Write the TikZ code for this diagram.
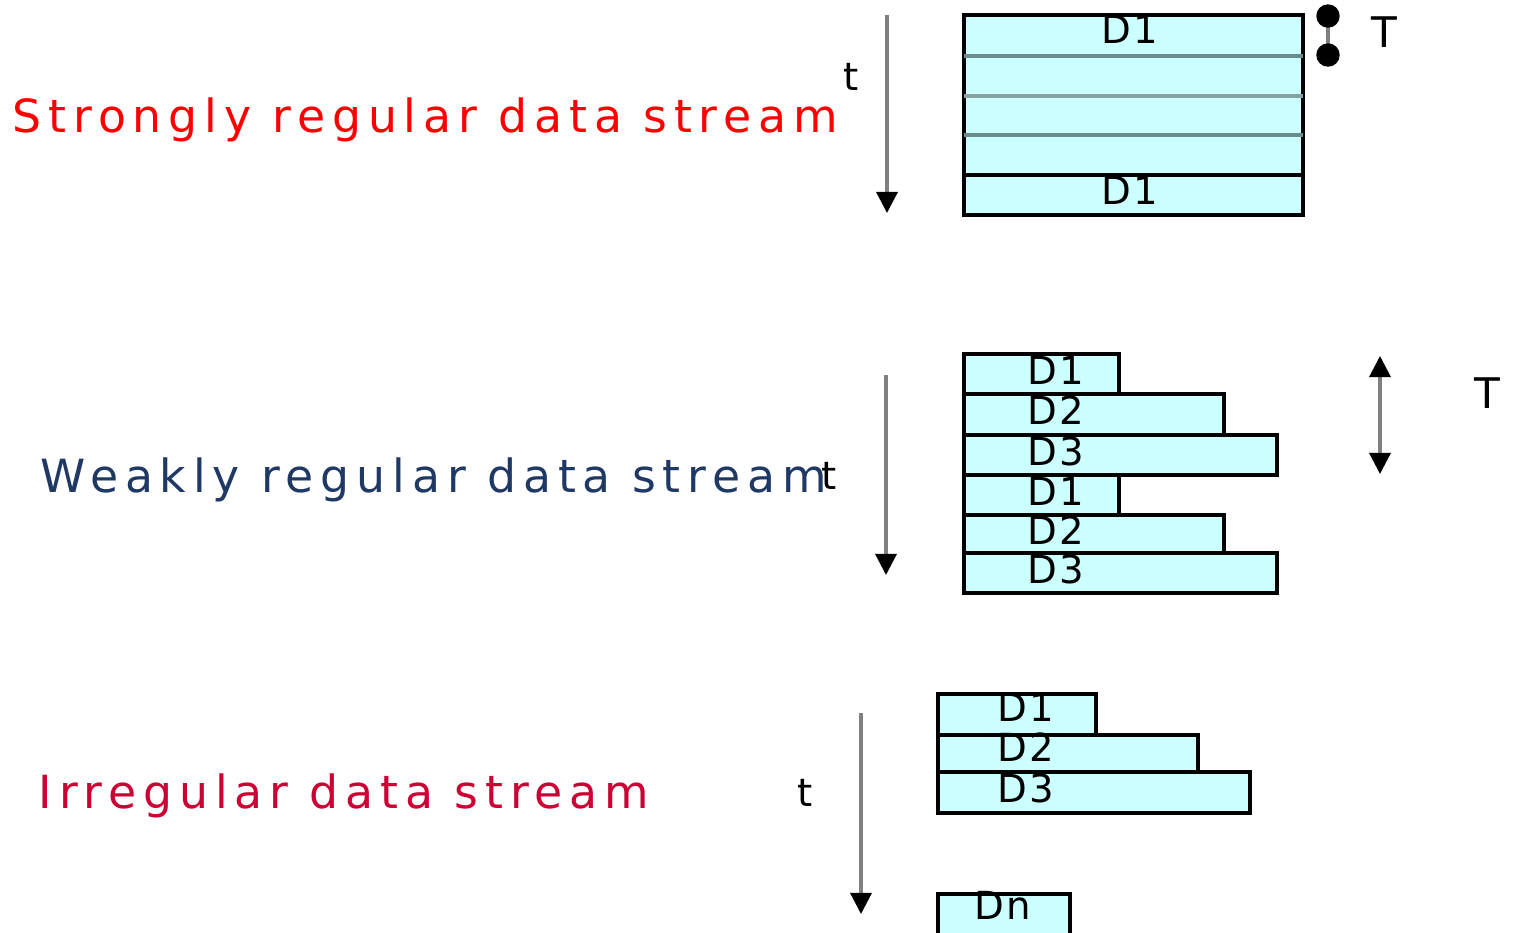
\documentclass[tikz,border=0pt]{standalone}
\usepackage{fontspec}
\setmainfont{DejaVu Sans}
\newfontfamily\streamfont[LetterSpace=15]{DejaVu Sans}
\newfontfamily\slotfont[LetterSpace=6]{DejaVu Sans}
\usetikzlibrary{arrows.meta}
\definecolor{slotfill}{HTML}{CCFFFF}
\definecolor{sepgray}{HTML}{6A8C8C}
\definecolor{strongred}{HTML}{FF0000}
\definecolor{weakblue}{HTML}{1F3864}
\definecolor{irregred}{HTML}{CC0033}

\begin{document}
\begin{tikzpicture}[x=0.01cm, y=-0.01cm,
  slot/.style={draw=black, fill=slotfill, line width=0.9pt},
  flow/.style={draw=gray, line width=0.9pt, -{Triangle[width=6pt,length=6pt,black]}},
  dlabel/.style={font=\slotfont\fontsize{11}{13}\selectfont, inner sep=0pt},
  title/.style={font=\streamfont\fontsize{13}{15}\selectfont, anchor=base west, inner sep=0pt}]
\useasboundingbox (0,0) rectangle (1514,932);

% strongly regular stream
\node[title, text=strongred] (strong) at (12,132) {Strongly regular data stream};
\node[dlabel] (t1) at (851,77) {t};
\coordinate (s1) at (887,15);
\coordinate (s2) at (887,213);
\draw[flow] (s1) -- (s2);

\filldraw[slot] (964,15) rectangle (1303,215);
\draw[sepgray, line width=1pt] (964,56) -- (1303,56);
\draw[sepgray!80, line width=1.2pt] (964,96) -- (1303,96);
\draw[sepgray, line width=1pt] (964,135) -- (1303,135);
\draw[black, line width=0.9pt] (964,175) -- (1303,175);
\node[dlabel] (d1a) at (1130,29) {D1};
\node[dlabel] (d1b) at (1130,190) {D1};

\coordinate (p1) at (1328,16);
\coordinate (p2) at (1328,55);
\draw[gray, line width=0.9pt] (p1) -- (p2);
\filldraw[black] (p1) circle (11) (p2) circle (11);
\node[dlabel, font=\fontsize{12}{14}\selectfont] (T1) at (1384,32) {T};

% weakly regular stream
\node[title, text=weakblue] (weak) at (40,492) {Weakly regular data stream};
\node[dlabel] (t2) at (829,476) {t};
\coordinate (w1) at (886,375);
\coordinate (w2) at (886,575);
\draw[flow] (w1) -- (w2);

\foreach \ytop/\ybot/\xr in {354/394/1119, 394/435/1224, 435/475/1277,
                             475/515/1119, 515/553/1224, 553/593/1277}
  \filldraw[slot] (964,\ytop) rectangle (\xr,\ybot);
\foreach \yc/\lab [count=\i] in {370/D1, 410/D2, 451/D3, 491/D1, 530/D2, 569/D3}
  \node[dlabel] (w\i) at (1056,\yc) {\lab};

\coordinate (T2a) at (1380,356);
\coordinate (T2b) at (1380,474);
\draw[flow, {Triangle[width=6pt,length=6pt,black]}-{Triangle[width=6pt,length=6pt,black]}] (T2a) -- (T2b);
\node[dlabel, font=\fontsize{12}{14}\selectfont] (T2) at (1487,393) {T};

% irregular stream
\node[title, text=irregred] (irreg) at (38,808) {Irregular data stream};
\node[dlabel] (t3) at (805,793) {t};
\coordinate (i1) at (861,713);
\coordinate (i2) at (861,914);
\draw[flow] (i1) -- (i2);

\filldraw[slot] (938,694) rectangle (1096,735);
\filldraw[slot] (938,735) rectangle (1198,772);
\filldraw[slot] (938,772) rectangle (1250,813);
\filldraw[slot] (938,894) rectangle (1070,940);
\node[dlabel] (i1l) at (1026,707) {D1};
\node[dlabel] (i2l) at (1026,747) {D2};
\node[dlabel] (i3l) at (1026,788) {D3};
\node[dlabel] (inl) at (1003,905) {Dn};

\end{tikzpicture}
\end{document}
